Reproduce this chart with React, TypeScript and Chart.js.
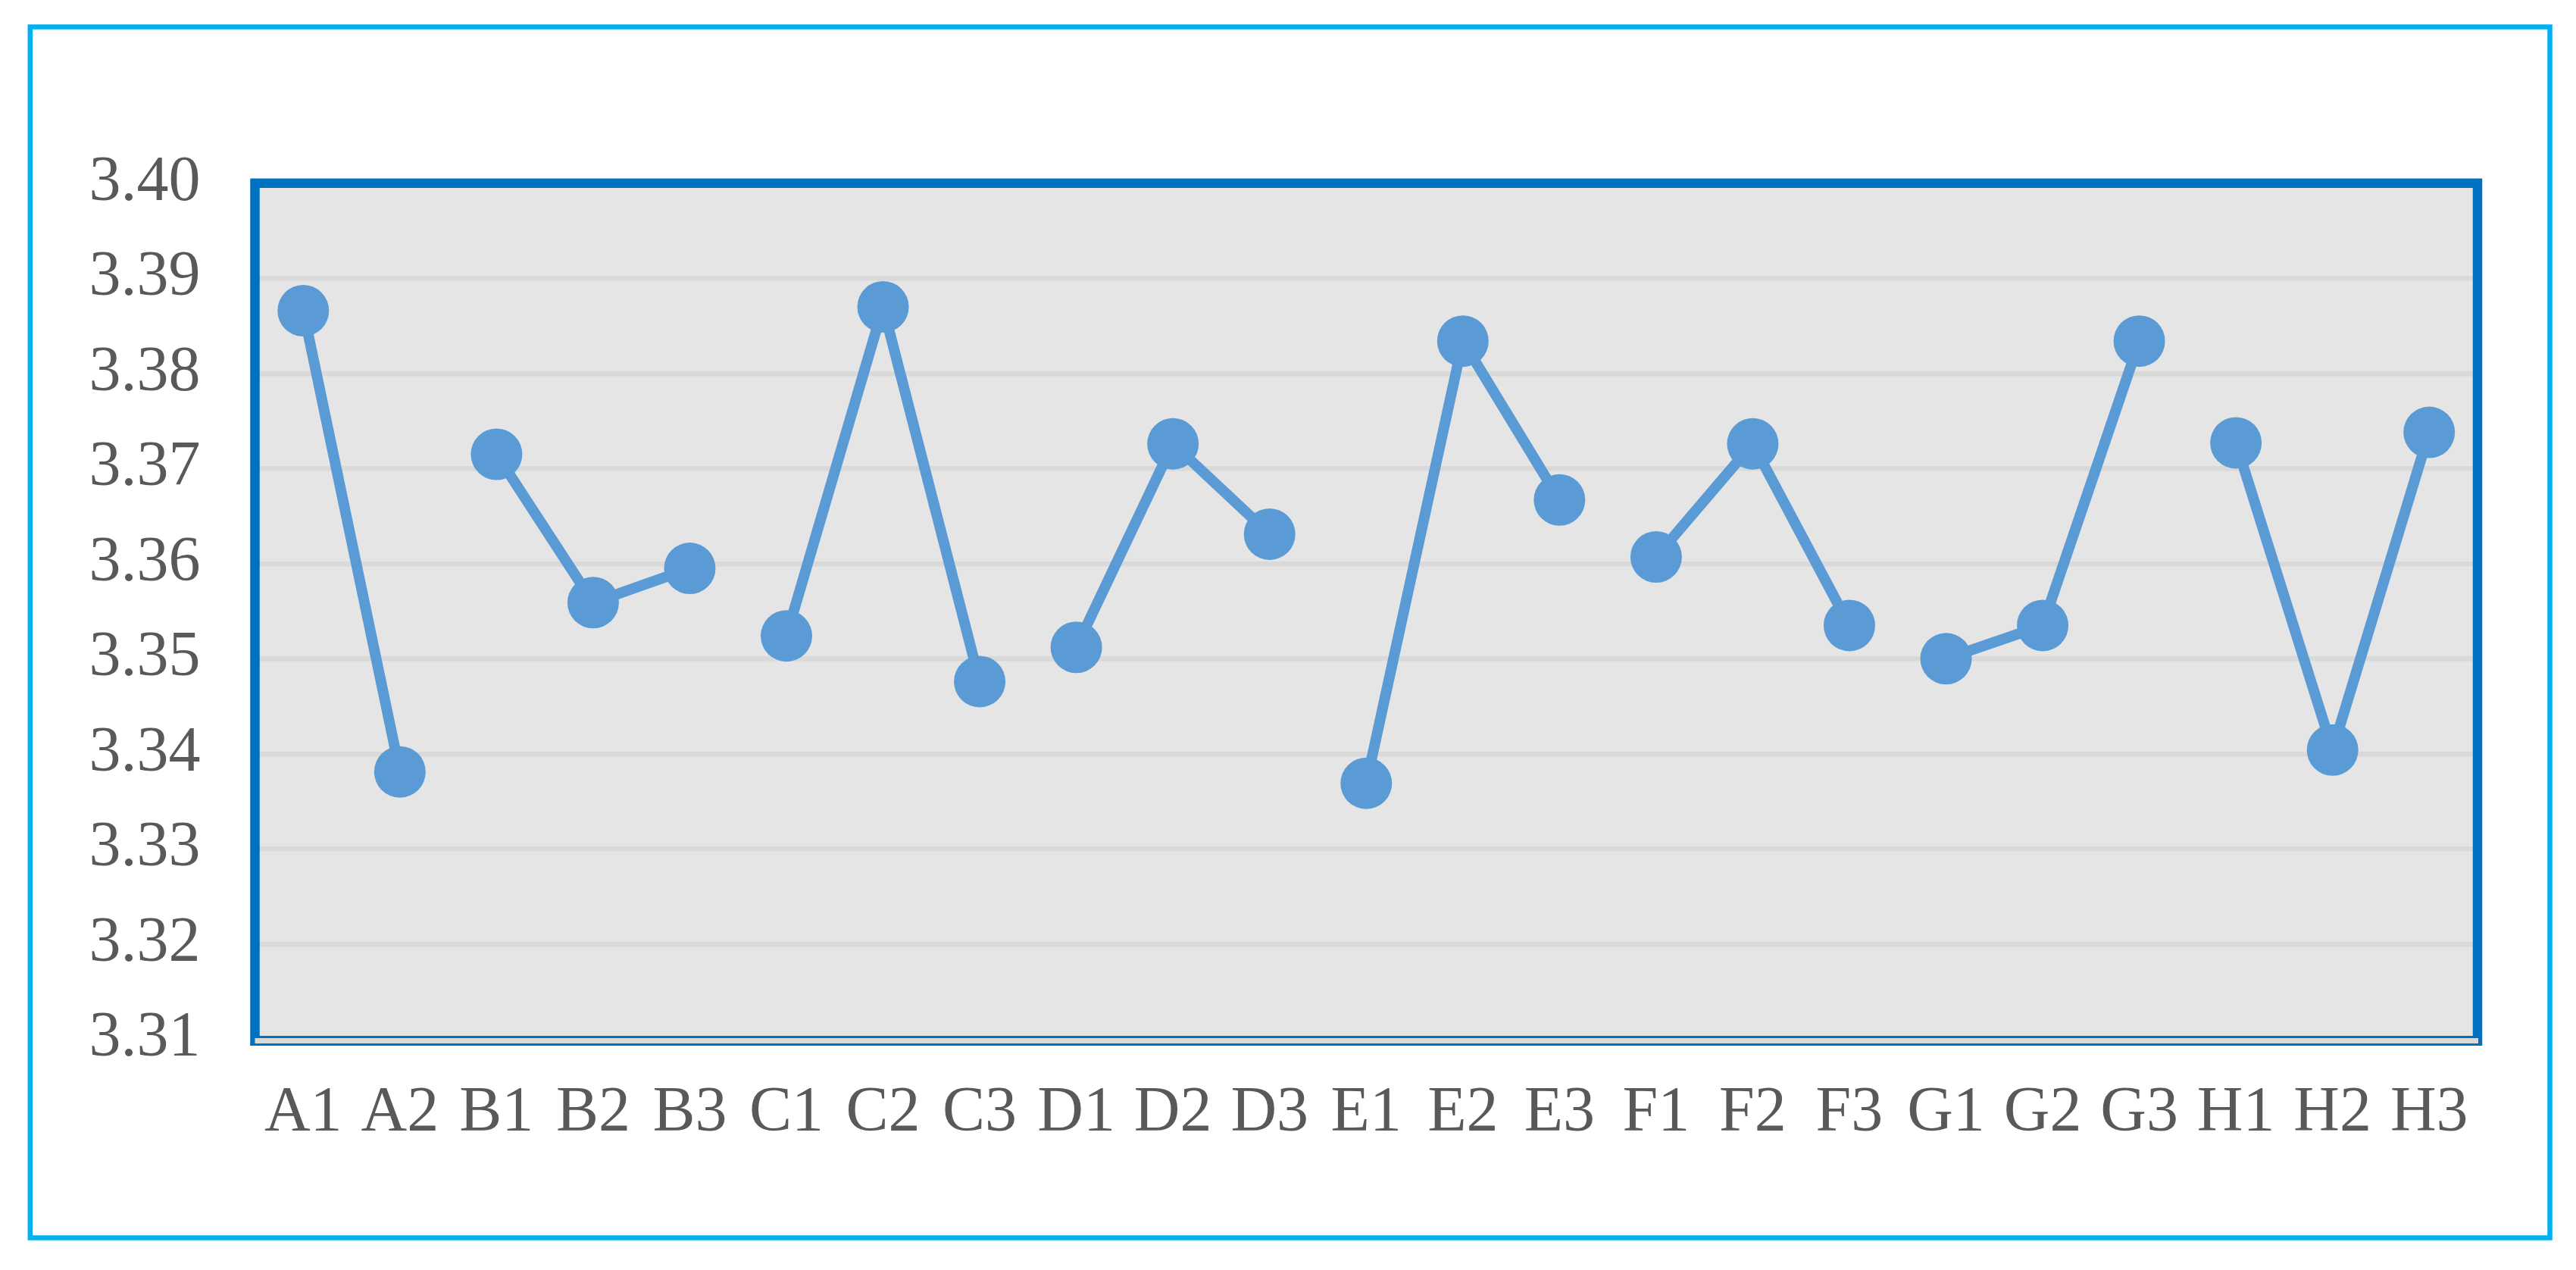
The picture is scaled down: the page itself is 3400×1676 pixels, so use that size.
import React, { useEffect, useRef } from "react";
import { Chart, registerables } from "chart.js";

Chart.register(...registerables);

// ---- Data ----
const categories = [
  "A1", "A2", "B1", "B2", "B3", "C1", "C2", "C3", "D1", "D2", "D3",
  "E1", "E2", "E3", "F1", "F2", "F3", "G1", "G2", "G3", "H1", "H2", "H3",
];
const values = [
  3.3866, 3.3381, 3.3715, 3.3559, 3.3595, 3.3524, 3.387, 3.3476, 3.3512, 3.3726, 3.3631,
  3.3369, 3.3834, 3.3667, 3.3607, 3.3726, 3.3535, 3.35, 3.3535, 3.3834, 3.3727, 3.3404, 3.3738,
];
const yMin = 3.31;
const yMax = 3.4;
const yStep = 0.01;

// group of each category (letter) — lines only join points inside a group
const groups = categories.map((c) => c.charAt(0));

const LINE = "#5B9BD5";
const PLOT_BORDER = "#0070C0";
const OUTER_BORDER = "#00B0F0";
const TEXT = "#595959";
const FONT = "'Liberation Serif', 'Times New Roman', serif";

const framePlugin = {
  id: "frame",
  beforeDraw(chart: any) {
    const { ctx, chartArea: a } = chart;
    ctx.save();
    ctx.fillStyle = "#FFFFFF";
    ctx.fillRect(0, 0, chart.width, chart.height);
    ctx.fillStyle = "#E5E5E5";
    ctx.fillRect(a.left, a.top, a.right - a.left, a.bottom - a.top);
    ctx.restore();
  },
  afterDraw(chart: any) {
    const { ctx, chartArea: a } = chart;
    ctx.save();
    // plot-area border (left, top, right)
    ctx.strokeStyle = PLOT_BORDER;
    ctx.lineWidth = 12.5;
    ctx.lineJoin = "miter";
    ctx.beginPath();
    ctx.moveTo(a.left, a.bottom + 8.7);
    ctx.lineTo(a.left, a.top);
    ctx.lineTo(a.right, a.top);
    ctx.lineTo(a.right, a.bottom + 8.7);
    ctx.stroke();
    // bottom edge: blue / gray / blue
    ctx.fillStyle = "#D9D9D9";
    ctx.fillRect(a.left, a.bottom - 1.3, a.right - a.left + 1, 7);
    ctx.fillStyle = PLOT_BORDER;
    ctx.fillRect(a.left, a.bottom - 4.3, a.right - a.left - 6, 3);
    ctx.fillRect(a.left - 6, a.bottom + 5.7, a.right - a.left + 12, 3);
    // outer frame
    ctx.strokeStyle = OUTER_BORDER;
    ctx.lineWidth = 6.5;
    ctx.strokeRect(39.8, 35.5, 3325.7, 1598);
    ctx.restore();
  },
};

export default function App() {
  const ref = useRef<HTMLCanvasElement | null>(null);

  useEffect(() => {
    if (!ref.current) return;
    const chart = new Chart(ref.current, {
      type: "line",
      data: {
        labels: categories,
        datasets: [
          {
            data: values,
            borderColor: LINE,
            backgroundColor: LINE,
            borderWidth: 14,
            pointRadius: 34,
            pointHoverRadius: 34,
            pointBackgroundColor: LINE,
            pointBorderWidth: 0,
            tension: 0,
            clip: false as any,
            segment: {
              borderColor: (ctx: any) =>
                groups[ctx.p0DataIndex] === groups[ctx.p1DataIndex] ? LINE : "rgba(0,0,0,0)",
            },
          },
        ],
      },
      options: {
        animation: false,
        responsive: false,
        devicePixelRatio: 1,
        events: [],
        layout: { padding: { top: 241.8, right: 130, left: 0, bottom: 0 } },
        plugins: { legend: { display: false }, tooltip: { enabled: false } },
        scales: {
          x: {
            type: "category",
            offset: true,
            grid: { display: false, drawTicks: false, offset: true },
            border: { display: false },
            ticks: {
              color: TEXT,
              font: { family: FONT, size: 84 },
              padding: 48,
              autoSkip: false,
              maxRotation: 0,
              minRotation: 0,
            },
            afterFit: (s: any) => {
              s.height = 304.7;
            },
          },
          y: {
            min: yMin,
            max: yMax,
            grid: { color: "#D9D9D9", lineWidth: 6.5, drawTicks: false },
            border: { display: false },
            ticks: {
              stepSize: yStep,
              color: TEXT,
              font: { family: FONT, size: 84 },
              padding: 72,
              callback: (v: any) => Number(v).toFixed(2),
            },
            afterFit: (s: any) => {
              s.width = 336.5;
            },
          },
        },
      },
      plugins: [framePlugin],
    });
    return () => chart.destroy();
  }, []);

  return (
    <div style={{ position: "absolute", left: 0, top: 0, width: 3400, height: 1676, background: "#fff" }}>
      <canvas ref={ref} width={3400} height={1676} style={{ display: "block", width: 3400, height: 1676 }} />
    </div>
  );
}
